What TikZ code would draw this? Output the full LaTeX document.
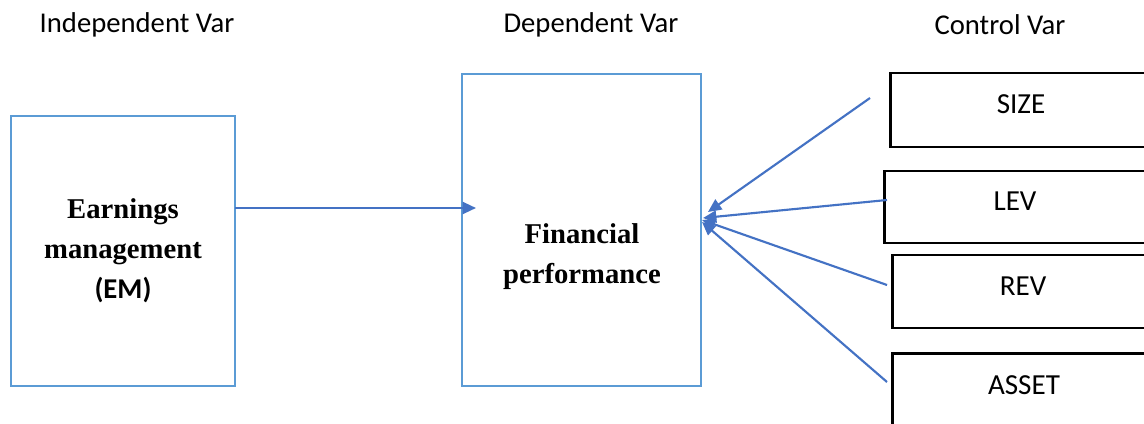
\documentclass[tikz,border=0pt]{standalone}
\usepackage{fontspec}
\setmainfont{Carlito}
\newfontfamily\serifb{Liberation Serif}
\usetikzlibrary{arrows.meta}
\definecolor{boxblue}{HTML}{5B9BD5}
\definecolor{arrblue}{HTML}{4472C4}
\begin{document}
\begin{tikzpicture}[x=0.75pt,y=-0.75pt,
  bluebox/.style={draw=boxblue,line width=1.6pt,fill=white,inner sep=0pt},
  blackbox/.style={draw=black,line width=2pt,fill=white,inner sep=0pt,minimum width=220pt},
  ttl/.style={font=\fontsize{21.5}{26}\selectfont},
  big/.style={font=\serifb\bfseries\fontsize{21.5}{30}\selectfont,align=center},
  ctl/.style={font=\fontsize{21.8}{26}\selectfont},
  conn/.style={draw=arrblue,line width=1.6pt,-{Triangle[length=10pt,width=9pt]}}]
\clip (0,0) rectangle (1144,424);
\fill[white] (0,0) rectangle (1144,424);
% titles
\node[ttl] (t1) at (137,25) {Independent Var};
\node[ttl] (t2) at (591,25) {Dependent Var};
\node[ttl] (t3) at (1000,25) {Control Var};
% main boxes
\node[bluebox,minimum width=168pt,minimum height=202.5pt] (em) at (123,251) {};
\node[bluebox,minimum width=179.25pt,minimum height=234pt] (fp) at (581.5,230) {};
\node[big] (emt) at (123,251) {Earnings\\management\\{\fontspec{Carlito}\bfseries (EM)}};
\node[big] (fpt) at (582,257) {Financial\\performance};
% control boxes
\node[blackbox,minimum height=55.5pt,anchor=west] (size) at (889,110) {};
\node[blackbox,minimum height=54pt,anchor=west] (lev) at (883,207) {};
\node[blackbox,minimum height=54.75pt,anchor=west] (rev) at (891,291.5) {};
\node[blackbox,minimum height=56pt,anchor=west] (asset) at (891,391) {};
\node[ctl] (sizet) at (1021,104) {SIZE};
\node[ctl] (levt) at (1015,201) {LEV};
\node[ctl] (revt) at (1023,286) {REV};
\node[ctl] (assett) at (1024,385) {ASSET};
% connectors
\coordinate (emout) at (235,208);
\coordinate (fpin) at (476,208);
\draw[conn] (emout) -- (fpin);
\coordinate (s0) at (870,98);
\coordinate (s1) at (708,212);
\coordinate (l0) at (887,200);
\coordinate (l1) at (703,218);
\coordinate (r0) at (887,285);
\coordinate (r1) at (702,220);
\coordinate (a0) at (887,382);
\coordinate (a1) at (702,222);
\draw[conn] (s0) -- (s1);
\draw[conn] (l0) -- (l1);
\draw[conn] (r0) -- (r1);
\draw[conn] (a0) -- (a1);
\end{tikzpicture}
\end{document}
